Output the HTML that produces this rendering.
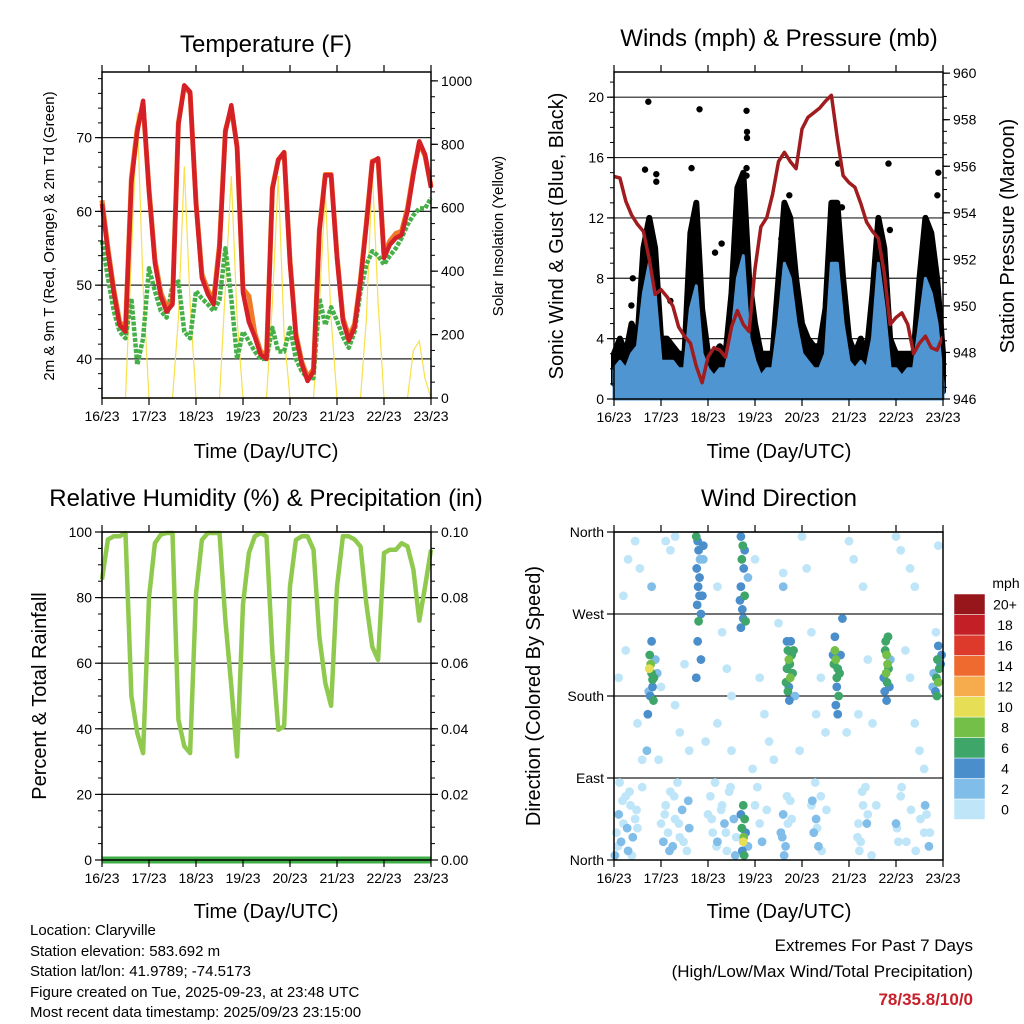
<!DOCTYPE html>
<html><head><meta charset="utf-8"><title>Station Meteogram - Claryville</title>
<style>
html,body{margin:0;padding:0;background:#fff;}
svg{display:block;font-family:"Liberation Sans",Arial,sans-serif;}
</style></head>
<body>
<svg id="chart" width="1024" height="1024" viewBox="0 0 1024 1024" xmlns="http://www.w3.org/2000/svg">
<rect x="0" y="0" width="1024" height="1024" fill="#fff"/>
<g id="marks"></g>
<g font-size="24" text-anchor="middle" fill="#000">
<text x="266" y="52">Temperature (F)</text>
<text x="779" y="46">Winds (mph) &amp; Pressure (mb)</text>
<text x="266" y="506">Relative Humidity (%) &amp; Precipitation (in)</text>
<text x="779" y="506">Wind Direction</text>
</g>
<g font-size="20" text-anchor="middle" fill="#000">
<text x="266" y="458">Time (Day/UTC)</text>
<text x="779" y="458">Time (Day/UTC)</text>
<text x="266" y="918">Time (Day/UTC)</text>
<text x="779" y="918">Time (Day/UTC)</text>
<text transform="translate(563,236) rotate(-90)">Sonic Wind &amp; Gust (Blue, Black)</text>
<text transform="translate(1014,236) rotate(-90)">Station Pressure (Maroon)</text>
<text transform="translate(46,696) rotate(-90)">Percent &amp; Total Rainfall</text>
<text transform="translate(540,696) rotate(-90)">Direction (Colored By Speed)</text>
</g>
<g font-size="15" text-anchor="middle" fill="#000">
<text transform="translate(54,236) rotate(-90)">2m &amp; 9m T (Red, Orange) &amp; 2m Td (Green)</text>
<text transform="translate(503,236) rotate(-90)">Solar Insolation (Yellow)</text>
</g>
<g font-size="15" fill="#000">
<text x="30" y="935">Location: Claryville</text>
<text x="30" y="956">Station elevation: 583.692 m</text>
<text x="30" y="976">Station lat/lon: 41.9789; -74.5173</text>
<text x="30" y="997">Figure created on Tue, 2025-09-23, at 23:48 UTC</text>
<text x="30" y="1017">Most recent data timestamp: 2025/09/23 23:15:00</text>
</g>
<g font-size="17" text-anchor="end" fill="#000">
<text x="973" y="951">Extremes For Past 7 Days</text>
<text x="973" y="977">(High/Low/Max Wind/Total Precipitation)</text>
<text x="973" y="1005" fill="#c8202a" font-weight="bold">78/35.8/10/0</text>
</g>
<text x="1006" y="588" font-size="14" text-anchor="middle">mph</text>
</svg>
<script>
// ---------- data (3-hourly samples starting 16/23 00 UTC) ----------
const dayLabels = ["16/23","17/23","18/23","19/23","20/23","21/23","22/23","23/23"];
const sampleStepDays = 0.125;
const tempRed = [61,54.6,49,44.6,43.7,64,70.8,75, 62.7,53,48.5,46.4,47.4,71.8,77.1,76.2, 61,51,48.8,47.4,55,70.8,74.4,68.6, 49,45,43,40.6,40,63,67,68, 53,43,39.3,37,38.3,57.3,64.9,64.9, 53.7,45.2,42.5,44.3,50.5,58.2,66.7,67.2, 53.7,55.5,56.4,56.8,60,65,69.5,67.7, 63.2];
const tempOrange = [61.5,55,49.4,45,44.2,64.5,71.3,74.5, 63,53.5,49,47,47.8,72,77,76, 61.3,51.5,49.3,48,55.5,71,74,68.8, 49.5,48.5,43.5,41,40.4,63.2,67,68, 53.3,43.4,39.6,37.5,38.6,57.5,65,65, 54,45.6,43,44.7,50.8,58.5,66.8,67, 54.2,56,57,57.3,60.4,65.3,69.3,67.5, 63.4];
const dewGreen = [56,51,46.5,43.7,42.8,48.2,39.2,42.8, 52.3,49.2,46.5,45.6,50,50.5,43.7,42.8, 49.2,48.2,47.4,46.5,48,55,48.2,40, 43.7,42.4,41,40,40,44.2,41,41, 44.2,40,38.3,37.4,37.4,48.2,44.6,47, 45.2,43,41.5,43.7,49.2,52.8,54.6,54, 52.8,54,55,56.4,58.2,59.5,60.4,60.4, 61.8];
const solar = [0,0,0,0,0,450,900,350, 0,0,0,0,0,250,730,300, 0,0,0,0,0,350,700,250, 0,0,0,0,0,300,700,200, 0,0,0,0,0,300,650,250, 0,0,0,0,0,250,720,300, 0,0,0,0,0,150,180,60, 0];
const pressure = [955.56,955.5,954.5,953.9,953.5,953.2,952,950.5, 950.7,950.4,950,949.1,948.7,948.4,947.4,946.7, 947.8,948.2,948.1,947.8,949.1,949.8,949.2,948.9, 951.6,953.4,953.8,954.8,956.2,956.6,956.2,955.9, 957.6,958.1,958.3,958.5,958.8,959.05,957.2,955.6, 955.3,955.1,954.4,953.6,953.2,952.9,951.4,949.2, 949.5,949.7,949.2,947.95,948.4,948.7,948.2,948.1, 948.7];
const gustLow = [1,1.5,1,1,1,3,4,3, 1,1,1,1,1,3,4,2, 1,0.5,1,1,2,4,5,2, 1,0.5,1,1,2,4,4,2, 1,1,1,1,2,4,4,2, 1,1,1,1,2,4,3,1, 1,1,1,1,3,4,4,2, 0.5];
const gustHigh = [3,4,3,5,4,10,12,10, 4,4,3.5,3,3,11,13,6, 3,3,3.5,3,7,14,15,8, 5,3,3,3,8,13,12,8, 5,4,3.5,3.5,6,13,13,8, 4,3,4,3,7,12,10,4, 3,3,3,3,8,12,11,8, 3];
const windLow = [0,0,0,0,0,0,0,0, 0,0,0,0,0,0,0,0, 0,0,0,0,0,0,0,0, 0,0,0,0,0,0,0,0, 0,0,0,0,0,0,0,0, 0,0,0,0,0,0,0,0, 0,0,0,0,0,0,0,0, 0];
const windHigh = [2,2.5,2,3,3.5,7,9,7, 2.5,2.5,2.5,2,2,6,7.5,3, 2,1.5,2,2,4,8,9.5,4, 2.5,1.5,2,2,5,9,8,5, 3,2.5,2,2,3,9,9,5, 2.5,2,2.5,2,4,9,6,2, 2,1.5,2,2,5,8,7,5, 1];
const gustOutlierDay = [0.73,1.82,2.82,2.83,2.83,2.82,2.82,0.66,0.9,0.9,1.65,4.77,3.73,5.84,6.9,6.88,2.29,2.15,3.56,0.4,0.37,1.2,4.85,5.87,5.75];
const gustOutlierMph = [19.7,19.2,19.1,17.7,17.3,15.3,14.8,15.2,14.9,14.4,15.3,15.6,13.5,15.6,15,13.5,10.3,9.7,10.6,8,6.2,6.5,12.7,11.2,8];
const rh = [85.5,97.7,98.7,98.7,99.7,50,38.7,32.6, 80,96.6,99.2,99.7,99.7,42.8,34.7,32.6, 81,97.6,99.7,99.7,99.7,73,53,31.6, 78,93.6,98.7,99.7,98.7,63,39.7,40.8, 83.4,97.6,98.7,98.7,94.6,68,54,47, 83.4,98.7,98.7,97.7,95.6,78,65,61, 93.6,94.6,94.6,96.6,95.6,88.5,73,83.4, 94.6];
const precip = [0,0,0,0,0,0,0,0];
const dirDay = [0.78,0.8,0.76,0.82,0.75,0.85,0.82,0.77,0.84,0.8,0.74,0.88,0.72,
1.78,1.8,1.76,1.79,1.82,1.77,1.85,1.8,1.83,1.75,1.9,1.82,1.88,1.78,1.85,1.75,
2.7,2.74,2.72,2.76,2.7,2.78,2.73,2.75,2.8,2.68,2.85,2.7,2.78,2.75,2.78,2.72,2.76,2.75,2.8,2.73,2.85,2.77,2.7,
3.7,3.72,3.68,3.75,3.74,3.8,3.66,3.72,3.78,3.7,3.76,3.82,3.68,3.73,3.85,
4.7,4.72,4.76,4.74,4.68,4.8,4.74,4.78,4.72,4.76,4.66,4.82,4.7,4.86,
5.78,5.8,5.82,5.79,5.81,5.77,5.84,5.76,5.83,5.74,5.86,5.8,5.88,
6.88,6.92,6.86,6.9,6.84,6.95,6.8,6.9,6.78,6.97,6.87,
0.05,0.1,0.15,0.2,0.3,0.35,0.4,0.45,0.25,0.02,0.5,0.6,
1.0,1.05,1.1,1.15,1.2,1.25,1.3,1.35,1.4,1.45,1.55,1.6,
2.0,2.05,2.1,2.15,2.2,2.3,2.35,2.4,2.45,2.55,2.6,
3.0,3.05,3.1,3.15,3.25,3.55,3.6,3.65,3.7,3.75,3.62,
4.2,4.25,4.3,4.35,4.4,4.28,5.2,5.25,5.3,5.35,5.22,5.4,6.0,6.05,6.1,6.6,6.65,6.7,
0.2,0.3,0.45,0.55,0.1,0.25,0.5,0.6,0.7,1.1,1.2,1.3,1.0,1.3,1.4,1.6,1.5,2.2,2.3,2.4,2.5,2.2,2.5,3.0,3.1,3.2,3.3,3.4,3.5,3.6,4.0,4.1,4.3,4.4,4.5,4.2,5.0,5.1,5.3,5.4,5.5,5.2,6.0,6.1,6.3,6.4,6.2,6.3,6.4,6.5,6.6,6.9,6.85,0.92,1.9,3.6,0.8,
0.08,0.18,0.28,0.38,0.48,0.12,0.33,1.08,1.18,1.28,1.38,1.48,1.58,2.08,2.18,2.28,2.38,2.48,2.58,3.58,3.68,3.78,4.22,4.32,4.42,4.52,5.18,5.28,5.38,5.48,5.58,6.02,6.12,6.22,6.32,6.42,6.52,6.62,6.72,0.95,1.95,2.95,3.95,4.95];
const dirDeg = [215,205,225,198,210,200,190,180,175,240,185,220,160,
350,340,320,300,290,280,270,262,330,355,345,310,290,240,220,200,
355,345,330,320,300,290,275,265,262,285,310,255,340,60,45,35,25,20,30,10,15,5,50,
230,220,210,200,215,205,195,190,225,185,240,230,240,175,180,
230,220,210,200,215,205,190,180,170,160,225,225,245,265,
240,225,215,205,195,230,210,185,245,200,190,175,220,
220,210,200,195,185,215,205,235,190,225,180,
30,50,20,40,10,60,25,45,70,5,35,80,
40,20,60,30,75,15,45,85,25,55,10,35,
50,70,30,85,20,60,40,10,75,45,25,
60,80,40,20,55,30,50,15,40,65,5,
60,30,45,15,70,85,40,20,60,80,10,50,40,20,70,30,50,15,
290,330,350,320,200,230,150,110,120,350,340,355,190,170,140,120,215,300,250,210,180,150,120,330,200,160,130,110,260,315,355,320,160,200,140,250,350,330,300,220,150,160,355,340,320,300,230,200,150,120,100,345,250,205,330,300,300,
15,65,35,5,55,85,75,50,10,70,40,20,65,45,15,55,30,80,5,25,70,45,65,35,10,55,25,75,40,5,60,35,80,20,55,10,45,60,30,110,130,100,120,140];
const dirSpeed = [8,6,6,6,10,6,4,4,6,4,2,2,4,
4,4,4,4,4,4,4,6,2,6,4,4,4,4,4,4,
4,6,6,4,4,6,4,4,6,4,2,4,4,6,6,6,8,10,4,4,2,6,4,
6,8,6,8,6,6,6,4,6,6,4,6,4,4,2,
8,8,6,6,6,6,4,6,4,4,4,4,4,4,
6,8,8,8,6,6,6,4,6,4,4,4,2,
6,6,6,8,4,4,2,4,2,4,6,
0,2,2,0,2,0,2,0,0,2,0,0,
0,2,0,0,0,2,0,0,0,2,0,2,
0,0,0,0,2,0,2,0,0,2,0,
0,0,0,2,0,2,2,2,0,0,2,
0,2,2,2,0,0,0,0,0,0,0,0,2,0,0,0,0,2,
0,0,0,0,0,0,0,0,2,0,0,0,0,0,0,0,0,0,0,0,0,0,0,0,0,0,0,0,0,0,0,0,0,0,0,0,0,0,0,0,0,0,0,0,0,0,0,0,0,0,0,0,0,2,2,2,2,
0,0,2,0,0,0,0,0,2,0,0,0,2,0,0,0,0,0,2,2,0,0,2,0,0,0,0,0,2,0,0,0,0,0,0,0,0,2,0,0,0,0,0,0];
const cbLabels = ["0","2","4","6","8","10","12","14","16","18","20+"];
const cbColors = ["#bfe6f8","#80bde8","#4a8ecb","#3fa66a","#74bf47","#e6de55","#f6ab4c","#ef6a2f","#de3a2c","#c21f26","#96161b"];

// ---------- helpers ----------
const NS = "http://www.w3.org/2000/svg";
const root = document.getElementById("marks");
function mk(tag, attrs, parent) {
  const e = document.createElementNS(NS, tag);
  for (const k in attrs) e.setAttribute(k, attrs[k]);
  (parent || root).appendChild(e);
  return e;
}
function lin(d0, d1, r0, r1) { return v => r0 + (v - d0) / (d1 - d0) * (r1 - r0); }

const P1 = {x0:102,x1:431,y0:72,y1:398};
const P2 = {x0:614,x1:943,y0:72,y1:399};
const P3 = {x0:102,x1:431,y0:532,y1:860};
const P4 = {x0:614,x1:943,y0:532,y1:860};
const x1s = lin(0,7,P1.x0,P1.x1), x2s = lin(0,7,P2.x0,P2.x1), x3s = lin(0,7,P3.x0,P3.x1), x4s = lin(0,7,P4.x0,P4.x1);
const yTemp = lin(34.7,78.9,398,72), ySolar = lin(0,1028,398,72);
const yWind = lin(0,21.67,399,72), yPres = lin(946,960.05,399,72);
const yRH = lin(0,100,860,532), yPrecip = lin(0,0.1,860,532);
const yDir = lin(0,360,860,532);

function polyPts(arr, xs, ys) {
  return arr.map((v,i) => xs(i*sampleStepDays).toFixed(1)+","+ys(v).toFixed(1)).join(" ");
}
function bandPts(lo, hi, xs, ys) {
  const a = hi.map((v,i) => xs(i*sampleStepDays).toFixed(1)+","+ys(v).toFixed(1));
  const b = lo.map((v,i) => xs(i*sampleStepDays).toFixed(1)+","+ys(v).toFixed(1)).reverse();
  return a.concat(b).join(" ");
}
function hgrid(P, ys, vals, name) {
  vals.forEach(v => {
    const l = mk("line", {x1:P.x0, x2:P.x1, y1:ys(v), y2:ys(v), stroke:"#222", "stroke-width":1.2});
    
    
  });
}
function yTicks(P, side, ys, majors, labels, minors, name) {
  const x = side === "l" ? P.x0 : P.x1, dir = side === "l" ? -1 : 1;
  minors.forEach(v => {
    const t = mk("line", {x1:x, x2:x+dir*4, y1:ys(v), y2:ys(v), stroke:"#000", "stroke-width":1});
    
    
  });
  majors.forEach((v,i) => {
    const t = mk("line", {x1:x, x2:x+dir*7, y1:ys(v), y2:ys(v), stroke:"#000", "stroke-width":1.2});
    
    
    const tx = mk("text", {x:x+dir*10, y:ys(v)+5, "font-size":14, "text-anchor": side === "l" ? "end" : "start"});
    tx.textContent = labels[i];
    
    
  });
}
function xTicks(P, xs, name) {
  dayLabels.forEach((lab,i) => {
    const x = xs(i);
    const tb = mk("line", {x1:x, x2:x, y1:P.y1, y2:P.y1+7, stroke:"#000", "stroke-width":1.2});
    
    
    const tt = mk("line", {x1:x, x2:x, y1:P.y0, y2:P.y0-7, stroke:"#000", "stroke-width":1.2});
    
    
    const tx = mk("text", {x:x, y:P.y1+23, "font-size":14, "text-anchor":"middle"});
    tx.textContent = lab;
    
    
  });
}
function frame(P, name) {
  const r = mk("rect", {x:P.x0, y:P.y0, width:P.x1-P.x0, height:P.y1-P.y0, fill:"none", stroke:"#000", "stroke-width":1.5});
  
  
}
function range(a,b,s){const r=[];for(let v=a;v<=b+1e-9;v+=s)r.push(+v.toFixed(4));return r;}

// ---------- Panel 1: temperature ----------
hgrid(P1, yTemp, [40,50,60,70], 'temperature-gridline');
let e;
e = mk("polyline", {points: polyPts(solar, x1s, ySolar), fill:"none", stroke:"#f8e04a", "stroke-width":1.2});


e = mk("polyline", {points: polyPts(dewGreen, x1s, yTemp), fill:"none", stroke:"#46b048", "stroke-width":4.5, "stroke-dasharray":"4 1.5", "stroke-linejoin":"round"});


e = mk("polyline", {points: polyPts(tempOrange, x1s, yTemp), fill:"none", stroke:"#f07a2a", "stroke-width":5, "stroke-linejoin":"round"});


e = mk("polyline", {points: polyPts(tempRed, x1s, yTemp), fill:"none", stroke:"#d42026", "stroke-width":4.5, "stroke-linejoin":"round"});


frame(P1, 'temperature-plot-frame');
yTicks(P1, "l", yTemp, [40,50,60,70], ["40","50","60","70"], range(36,78,2), 'temperature-y');
yTicks(P1, "r", ySolar, [0,200,400,600,800,1000], ["0","200","400","600","800","1000"], range(0,1000,50), 'solar-y');
xTicks(P1, x1s, 'temperature-x');

// ---------- Panel 2: winds & pressure ----------
hgrid(P2, yWind, [4,8,12,16,20], 'winds-gridline');
e = mk("polygon", {points: bandPts(gustLow, gustHigh, x2s, yWind), fill:"#000", stroke:"#000", "stroke-width":6, "stroke-linejoin":"round"});


gustOutlierDay.forEach((d,i) => {
  const c = mk("circle", {cx:x2s(d), cy:yWind(gustOutlierMph[i]), r:3.2, fill:"#000"});
  
  
});
e = mk("polygon", {points: bandPts(windLow, windHigh, x2s, yWind), fill:"#4f95d2", stroke:"#4f95d2", "stroke-width":3, "stroke-linejoin":"round"});


e = mk("polyline", {points: polyPts(pressure, x2s, yPres), fill:"none", stroke:"#a01c1f", "stroke-width":3.5, "stroke-linejoin":"round"});


frame(P2, 'winds-plot-frame');
yTicks(P2, "l", yWind, [0,4,8,12,16,20], ["0","4","8","12","16","20"], range(0,21,1), 'winds-y');
yTicks(P2, "r", yPres, [946,948,950,952,954,956,958,960], ["946","948","950","952","954","956","958","960"], range(946,960,0.5), 'pressure-y');
xTicks(P2, x2s, 'winds-x');

// ---------- Panel 3: humidity ----------
hgrid(P3, yRH, [20,40,60,80,100], 'humidity-gridline');
e = mk("polyline", {points: polyPts(rh, x3s, yRH), fill:"none", stroke:"#8fca4e", "stroke-width":4.5, "stroke-linejoin":"round"});


e = mk("polyline", {points: precip.map((v,i)=>x3s(i).toFixed(1)+","+yPrecip(v).toFixed(1)).join(" "), fill:"none", stroke:"#3fae47", "stroke-width":7});


frame(P3, 'humidity-plot-frame');
yTicks(P3, "l", yRH, [0,20,40,60,80,100], ["0","20","40","60","80","100"], range(0,100,5), 'humidity-y');
yTicks(P3, "r", yPrecip, [0,0.02,0.04,0.06,0.08,0.1], ["0.00","0.02","0.04","0.06","0.08","0.10"], range(0,0.1,0.005), 'precip-y');
xTicks(P3, x3s, 'humidity-x');

// ---------- Panel 4: wind direction ----------
hgrid(P4, yDir, [90,180,270,360], 'direction-gridline');
function spdColor(s){ let k = Math.round(s/2); if(k<0)k=0; if(k>10)k=10; return cbColors[k]; }
const order = dirSpeed.map((s,i)=>i).sort((a,b)=>dirSpeed[a]-dirSpeed[b]);
order.forEach(i => {
  const c = mk("circle", {cx:x4s(dirDay[i]), cy:yDir(dirDeg[i]), r:4.4, fill:spdColor(dirSpeed[i])});
  
  
});
frame(P4, 'direction-plot-frame');
yTicks(P4, "l", yDir, [0,90,180,270,360], ["North","East","South","West","North"], [], 'direction-y');
xTicks(P4, x4s, 'direction-x');

// colorbar
const cbTop = 594, cbH = 20.5, cbX = 954, cbW = 31;
cbLabels.forEach((lab,i) => {
  const y = cbTop + (10-i)*cbH;
  const r = mk("rect", {x:cbX, y:y, width:cbW, height:cbH, fill:cbColors[i], stroke:"#fff", "stroke-width":0.5});
  
  
  const t = mk("text", {x:1005, y:y+cbH/2+5, "font-size":14, "text-anchor":"middle"});
  t.textContent = lab;
  
  
});
</script>
</body></html>
